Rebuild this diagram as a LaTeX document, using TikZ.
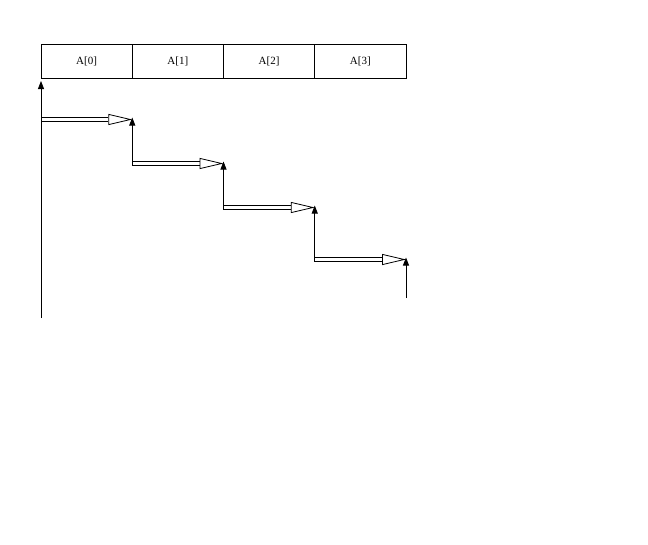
\documentclass[tikz,border=0pt]{standalone}
\usepackage{fontspec}
\setmainfont{Liberation Serif}
\usetikzlibrary{arrows.meta,positioning,calc}

\tikzset{
  cell/.style={draw, line width=0.8pt, minimum width=91.25pt, minimum height=34pt,
    inner sep=0pt, outer sep=0pt, font=\fontsize{11}{13}\selectfont},
  riseline/.style={line width=0.8pt, -{Triangle[length=8pt,width=6pt]}},
  hopline/.style={line width=0.8pt, double, double distance=3.4pt,
    -{Triangle[open,length=24pt,width=11pt]}}
}

\begin{document}
\begin{tikzpicture}[x=1pt, y=-1pt]
  \useasboundingbox (0,0) rectangle (648,544);
  % array cells
  \node[cell, anchor=north west] (a0) at (41,44) {A[0]};
  \node[cell, right=0pt of a0]   (a1) {A[1]};
  \node[cell, right=0pt of a1]   (a2) {A[2]};
  \node[cell, right=0pt of a2]   (a3) {A[3]};
  % step corners
  \coordinate (b0) at (41,318);
  \coordinate (t0) at (41,81);
  \coordinate (l1) at (41,119.5);
  \coordinate (r1) at (132.25,119.5);
  \coordinate (l2) at (132.25,163.5);
  \coordinate (r2) at (223.5,163.5);
  \coordinate (l3) at (223.5,207.5);
  \coordinate (r3) at (314.75,207.5);
  \coordinate (l4) at (314.75,259.5);
  \coordinate (r4) at (406,259.5);
  \coordinate (b4) at (406,298);
  % horizontal hops
  \draw[hopline] (l1) -- (r1);
  \draw[hopline] (l2) -- (r2);
  \draw[hopline] (l3) -- (r3);
  \draw[hopline] (l4) -- (r4);
  % vertical rises
  \draw[riseline] (b0) -- (t0);
  \draw[riseline] ($(l2)+(0,2.1)$) -- ($(r1)+(0,-2)$);
  \draw[riseline] ($(l3)+(0,2.1)$) -- ($(r2)+(0,-2)$);
  \draw[riseline] ($(l4)+(0,2.1)$) -- ($(r3)+(0,-2)$);
  \draw[riseline] (b4) -- ($(r4)+(0,-2)$);
\end{tikzpicture}
\end{document}
